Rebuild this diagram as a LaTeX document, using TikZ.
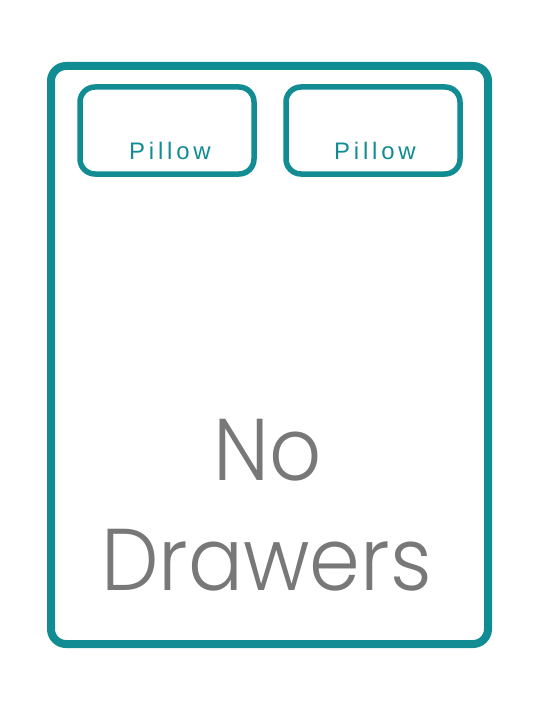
\documentclass[tikz,border=0pt]{standalone}
\usepackage{fontspec}
\setmainfont{Liberation Sans}
\newfontfamily\pillowfont[LetterSpace=16]{Liberation Sans}
\newfontfamily\thinfont{Poppins Light}
\definecolor{bedteal}{RGB}{16,140,146}
\definecolor{textgray}{RGB}{120,120,120}
\tikzset{
  bedframe/.style={draw=bedteal, line width=8bp, rounded corners=15bp},
  pillowbox/.style={draw=bedteal, line width=5.5bp, rounded corners=15bp},
  pillowtext/.style={text=bedteal, font=\pillowfont\fontsize{24}{26}\selectfont, anchor=base, inner sep=0pt},
  bigtext/.style={text=textgray, font=\thinfont\fontsize{88}{90}\selectfont, anchor=base, inner sep=0pt, xscale=0.93, transform shape}
}
\begin{document}
\begin{tikzpicture}[x=1bp,y=-1bp]
\useasboundingbox (0,0) rectangle (540,711);
\fill[white] (0,0) rectangle (540,711);
\draw[bedframe] (51,66) rectangle (488,644);
\draw[pillowbox] (80,87) rectangle (254,174);
\draw[pillowbox] (286,87) rectangle (460,174);
\node[pillowtext] (p1) at (170,159) {Pillow};
\node[pillowtext] (p2) at (375,159) {Pillow};
\node[bigtext] (no) at (268,480) {No};
\node[bigtext] (dr) at (266.5,590) {Drawers};
\end{tikzpicture}
\end{document}
